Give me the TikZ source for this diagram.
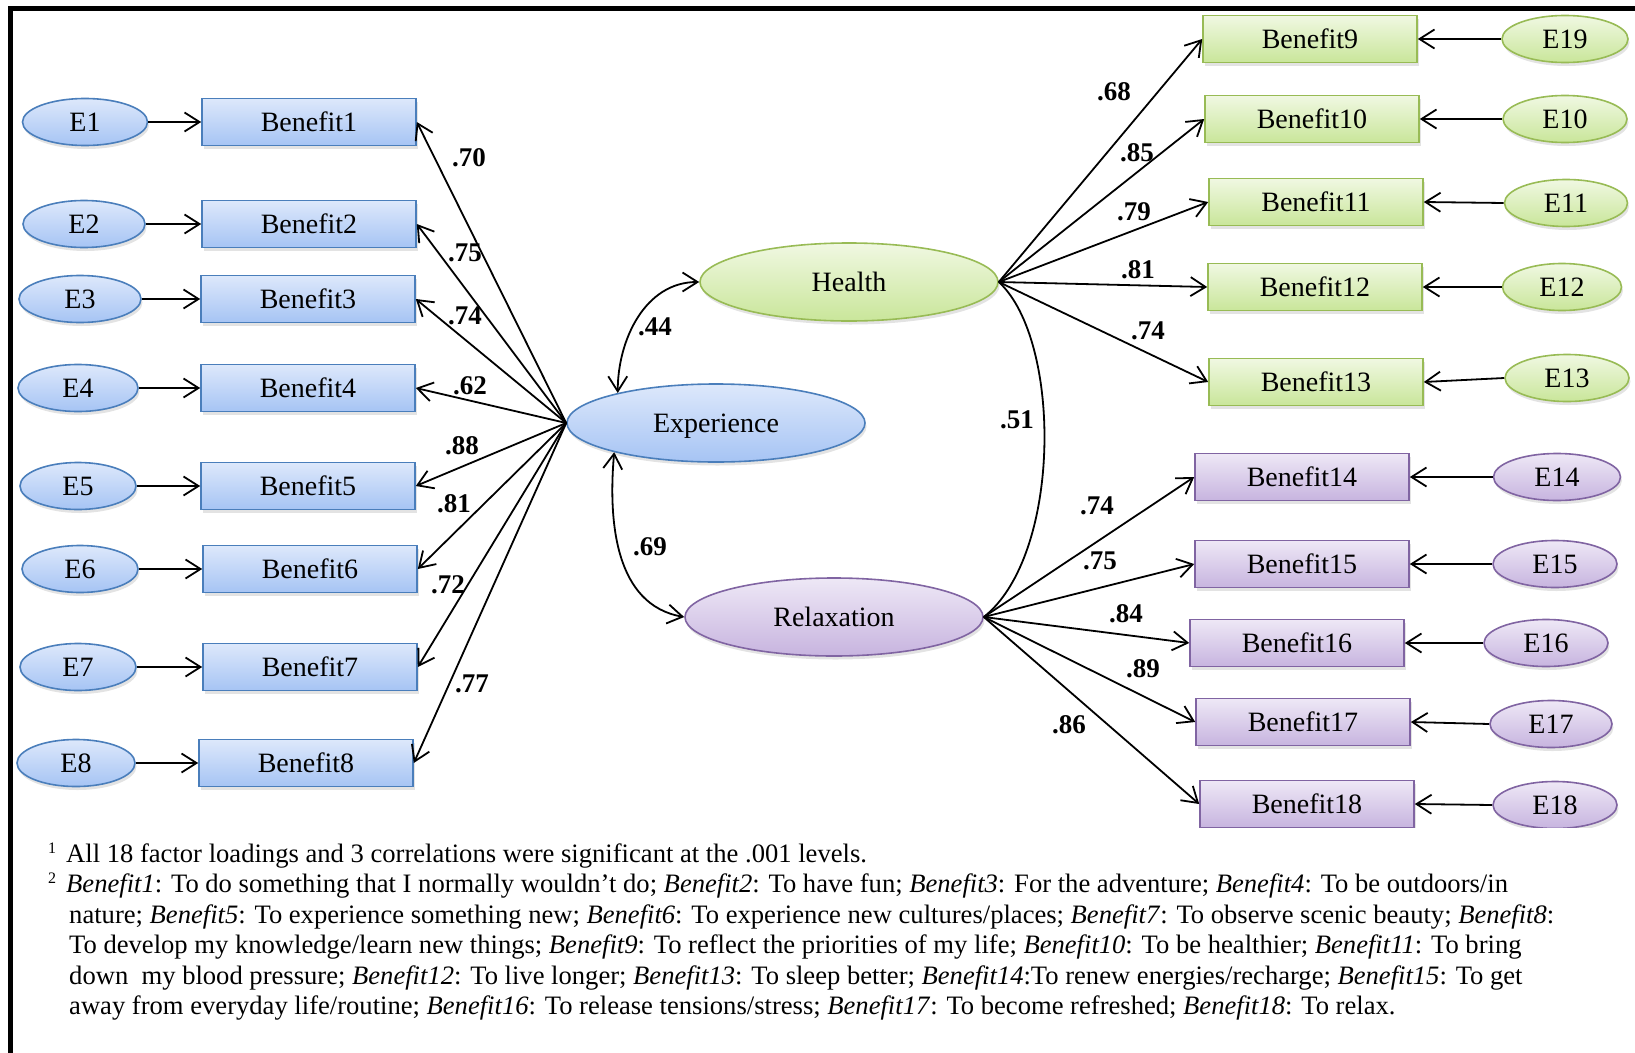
\documentclass[tikz,border=0pt]{standalone}
\usepackage{fontspec}
\setmainfont{Liberation Serif}
\usetikzlibrary{arrows.meta,shapes.geometric,shadows}

\definecolor{blueedge}{HTML}{4A7EBB}
\definecolor{bluetop}{HTML}{DDE8FB}
\definecolor{bluebot}{HTML}{A6C4F4}
\definecolor{greenedge}{HTML}{98BB55}
\definecolor{greentop}{HTML}{F0F8E2}
\definecolor{greenbot}{HTML}{C9E69A}
\definecolor{purpleedge}{HTML}{8064A2}
\definecolor{purpletop}{HTML}{EEE8F6}
\definecolor{purplebot}{HTML}{C7B4DF}

\newcommand{\supnum}[1]{\raisebox{9pt}{\fontsize{16}{16}\selectfont #1}\hspace{10pt}}

\begin{document}
\begin{tikzpicture}[x=1pt,y=-1pt,
  base/.style={line width=1.6pt, inner sep=0pt, text depth=0pt,
    font=\fontsize{28}{32}\selectfont,
    drop shadow={opacity=0.22, shadow xshift=1.5pt, shadow yshift=-3.5pt}},
  obsbox/.style={base, rectangle, minimum width=214pt, minimum height=47pt},
  errell/.style={base, ellipse, minimum width=122pt, minimum height=47pt},
  latent/.style={base, ellipse, minimum width=298pt, minimum height=78pt},
  bluefill/.style={draw=blueedge, top color=bluetop, bottom color=bluebot},
  greenfill/.style={draw=greenedge, top color=greentop, bottom color=greenbot},
  purplefill/.style={draw=purpleedge, top color=purpletop, bottom color=purplebot},
  barb/.tip={Straight Barb[length=15pt,width=19pt]},
  arr/.style={line width=1.8pt, -barb},
  corr/.style={line width=1.8pt, barb-barb},
  coef/.style={font=\bfseries\fontsize{27}{30}\selectfont, inner sep=0pt},
  note/.style={font=\fontsize{26.6}{30}\selectfont, inner sep=0pt, anchor=base west},
  ]
\useasboundingbox (0,0) rectangle (1635,1052);

% outer frame (top and left edges)
\draw[line width=5pt, line cap=rect] (1640,8) -- (10,8) -- (10,1060);

\begin{scope}
\clip (0,0) rectangle (1635,827);

% ---------------- Experience block ----------------
\node[latent, bluefill] (exp) at (716,423) {Experience};

\node[errell, bluefill, minimum width=125pt] (e1) at (85,122) {E1};
\node[errell, bluefill] (e2) at (84,224) {E2};
\node[errell, bluefill] (e3) at (80,299) {E3};
\node[errell, bluefill, minimum width=120pt] (e4) at (78,388) {E4};
\node[errell, bluefill, minimum width=116pt] (e5) at (78,486) {E5};
\node[errell, bluefill, minimum width=116pt] (e6) at (80,569) {E6};
\node[errell, bluefill, minimum width=116pt] (e7) at (78,667) {E7};
\node[errell, bluefill, minimum width=118pt] (e8) at (76,763) {E8};

\node[obsbox, bluefill] (b1) at (309,122) {Benefit1};
\node[obsbox, bluefill] (b2) at (309,224) {Benefit2};
\node[obsbox, bluefill] (b3) at (308,299) {Benefit3};
\node[obsbox, bluefill] (b4) at (308,388) {Benefit4};
\node[obsbox, bluefill] (b5) at (308,486) {Benefit5};
\node[obsbox, bluefill] (b6) at (310,569) {Benefit6};
\node[obsbox, bluefill] (b7) at (310,667) {Benefit7};
\node[obsbox, bluefill] (b8) at (306,763) {Benefit8};

\foreach \i in {1,...,8} {
  \draw[arr] (e\i.east) -- (b\i.west);
  \draw[arr] (exp.west) -- (b\i.east);
}

% ---------------- Health block ----------------
\node[latent, greenfill] (health) at (849,282) {Health};

\node[obsbox, greenfill] (b9)  at (1310,39)  {Benefit9};
\node[obsbox, greenfill] (b10) at (1312,119) {Benefit10};
\node[obsbox, greenfill] (b11) at (1316,202) {Benefit11};
\node[obsbox, greenfill] (b12) at (1315,287) {Benefit12};
\node[obsbox, greenfill] (b13) at (1316,382) {Benefit13};

\node[errell, greenfill, minimum width=126pt] (e9)  at (1565,39)  {E19};
\node[errell, greenfill, minimum width=124pt] (e10) at (1565,119) {E10};
\node[errell, greenfill, minimum width=123pt] (e11) at (1566,203) {E11};
\node[errell, greenfill, minimum width=119pt] (e12) at (1562,287) {E12};
\node[errell, greenfill, minimum width=124pt] (e13) at (1567,378) {E13};

% ---------------- Relaxation block ----------------
\node[latent, purplefill] (relax) at (834,617) {Relaxation};

\node[obsbox, purplefill] (b14) at (1302,477) {Benefit14};
\node[obsbox, purplefill] (b15) at (1302,564) {Benefit15};
\node[obsbox, purplefill] (b16) at (1297,643) {Benefit16};
\node[obsbox, purplefill] (b17) at (1303,722) {Benefit17};
\node[obsbox, purplefill] (b18) at (1307,804) {Benefit18};

\node[errell, purplefill, minimum width=127pt] (e14) at (1557,477) {E14};
\node[errell, purplefill, minimum width=124pt] (e15) at (1555,564) {E15};
\node[errell, purplefill, minimum width=124pt] (e16) at (1546,643) {E16};
\node[errell, purplefill, minimum width=122pt] (e17) at (1551,724) {E17};
\node[errell, purplefill, minimum width=124pt] (e18) at (1555,805) {E18};

\foreach \i in {9,...,13} {
  \draw[arr] (health.east) -- (b\i.west);
  \draw[arr] (e\i.west) -- (b\i.east);
}
\foreach \i in {14,...,18} {
  \draw[arr] (relax.east) -- (b\i.west);
  \draw[arr] (e\i.west) -- (b\i.east);
}

% ---------------- correlations ----------------
\draw[corr] (exp.163) to[out=90,in=180] (health.west);
\draw[corr] (exp.196) to[out=-95,in=170] (relax.west);
\draw[line width=1.8pt] (health.east) .. controls (1062,340) and (1062,555) .. (relax.east);

% ---------------- coefficients ----------------
\node[coef] (c1) at (469,158) {.70};
\node[coef] (c2) at (465,253) {.75};
\node[coef] (c3) at (465,316) {.74};
\node[coef] (c4) at (470,386) {.62};
\node[coef] (c5) at (462,446) {.88};
\node[coef] (c6) at (454,504) {.81};
\node[coef] (c7) at (448,585) {.72};
\node[coef] (c8) at (472,684) {.77};
\node[coef] (r1) at (655,327) {.44};
\node[coef] (r2) at (650,547) {.69};
\node[coef] (r3) at (1017,420) {.51};
\node[coef] (c9)  at (1114,92)  {.68};
\node[coef] (c10) at (1137,153) {.85};
\node[coef] (c11) at (1134,212) {.79};
\node[coef] (c12) at (1138,270) {.81};
\node[coef] (c13) at (1148,331) {.74};
\node[coef] (c14) at (1097,506) {.74};
\node[coef] (c15) at (1100,561) {.75};
\node[coef] (c16) at (1126,614) {.84};
\node[coef] (c17) at (1143,669) {.89};
\node[coef] (c18) at (1069,725) {.86};
\end{scope}

% ---------------- notes ----------------
\node[note] (n1) at (48,862) {\supnum{1}All 18 factor loadings and 3 correlations were significant at the .001 levels.};
\node[note] (n2) at (48,892) {\supnum{2}\textit{Benefit1}: To do something that I normally wouldn’t do; \textit{Benefit2}: To have fun; \textit{Benefit3}: For the adventure; \textit{Benefit4}: To be outdoors/in};
\node[note] (n3) at (69,923) {nature; \textit{Benefit5}: To experience something new; \textit{Benefit6}: To experience new cultures/places; \textit{Benefit7}: To observe scenic beauty; \textit{Benefit8}:};
\node[note] (n4) at (69,953) {To develop my knowledge/learn new things; \textit{Benefit9}: To reflect the priorities of my life; \textit{Benefit10}: To be healthier; \textit{Benefit11}: To bring};
\node[note] (n5) at (69,984) {down\ \ my blood pressure; \textit{Benefit12}: To live longer; \textit{Benefit13}: To sleep better; \textit{Benefit14}:To renew energies/recharge; \textit{Benefit15}: To get};
\node[note] (n6) at (69,1014) {away from everyday life/routine; \textit{Benefit16}: To release tensions/stress; \textit{Benefit17}: To become refreshed; \textit{Benefit18}: To relax.};
\end{tikzpicture}
\end{document}
